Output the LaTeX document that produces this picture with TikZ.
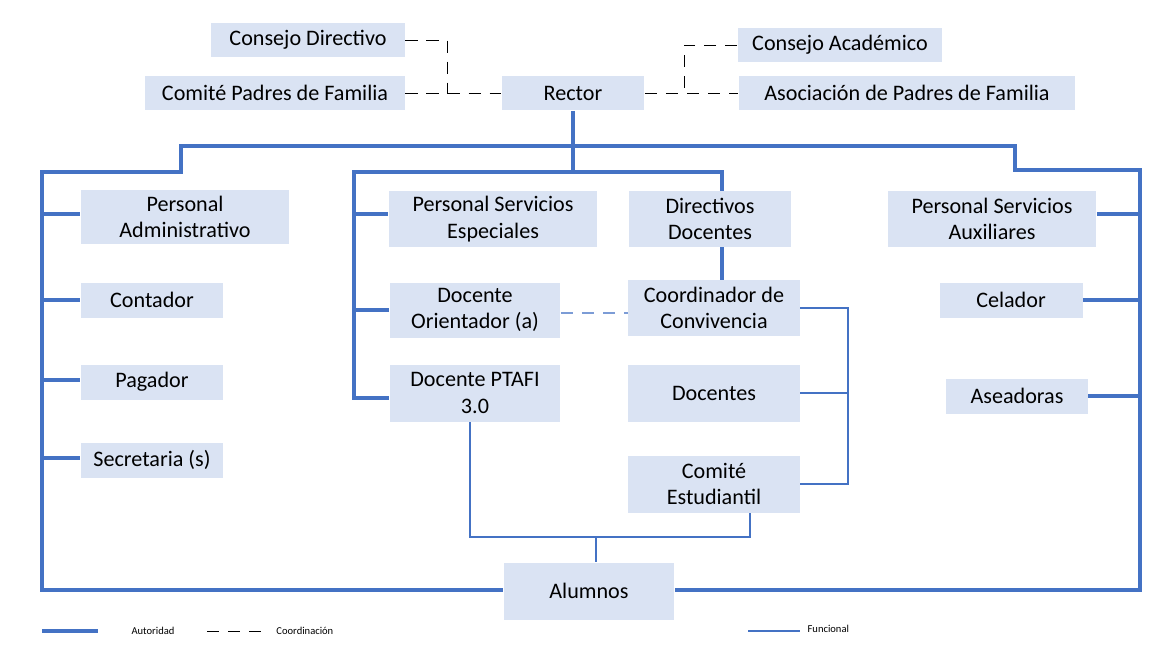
\documentclass[tikz,border=0pt]{standalone}
\usepackage{fontspec}
\setmainfont{Carlito}
\usetikzlibrary{calc}
\definecolor{boxblue}{RGB}{218,227,243}
\definecolor{lineblue}{RGB}{68,114,196}
\begin{document}
\begin{tikzpicture}[x = 0.02cm, y = -0.02cm, % pixel grid
                box/.style = {fill = boxblue, align = center, inner sep = 0pt,
                    font = \fontsize{12.6}{15}\selectfont},
                auth/.style = {draw = lineblue, line width = 2.2pt},
                func/.style = {draw = lineblue, line width = 0.7pt},
                coord/.style = {draw = black, dash pattern = on 7pt off 5pt, line width = 0.5pt}
            ]
            \useasboundingbox (0,0) rectangle (1176,646);

            % top row
            \node[box, minimum width = 3.88cm, minimum height = 0.7cm] (cdir) at (308,40) {Consejo Directivo};
            \node[box, minimum width = 5.2cm, minimum height = 0.7cm] (cpad) at (275,93) {Comité Padres de Familia};
            \node[box, minimum width = 2.86cm, minimum height = 0.7cm] (rect) at (573,93) {Rector};
            \node[box, minimum width = 4.1cm, minimum height = 0.7cm] (cacad) at (840,45) {Consejo Académico};
            \node[box, minimum width = 6.74cm, minimum height = 0.7cm] (asoc) at (907,93) {Asociación de Padres de Familia};

            % left column
            \node[box, minimum width = 4.18cm, minimum height = 1.1cm] (padm) at (185,217) {Personal\\Administrativo};
            \node[box, minimum width = 2.86cm, minimum height = 0.7cm] (cont) at (152,300) {Contador};
            \node[box, minimum width = 2.86cm, minimum height = 0.7cm] (paga) at (152,382) {Pagador};
            \node[box, minimum width = 2.86cm, minimum height = 0.7cm] (secr) at (152,460) {Secretaria (s)};

            % middle
            \node[box, minimum width = 4.18cm, minimum height = 1.12cm] (pse) at (493,219) {Personal Servicios\\Especiales};
            \node[box, minimum width = 3.26cm, minimum height = 1.12cm] (ddoc) at (710,219) {Directivos\\Docentes};
            \node[box, minimum width = 3.42cm, minimum height = 1.1cm] (dori) at (475,310) {Docente\\Orientador (a)};
            \node[box, minimum width = 3.44cm, minimum height = 1.12cm] (coor) at (714,308) {Coordinador de\\Convivencia};
            \node[box, minimum width = 3.42cm, minimum height = 1.14cm] (ptafi) at (475,393) {Docente PTAFI\\3.0};
            \node[box, minimum width = 3.44cm, minimum height = 1.14cm] (doce) at (714,393) {Docentes};
            \node[box, minimum width = 3.44cm, minimum height = 1.14cm] (cest) at (714,484) {Comité\\Estudiantil};
            \node[box, minimum width = 3.42cm, minimum height = 1.14cm] (alum) at (589,591) {Alumnos};

            % right column
            \node[box, minimum width = 4.18cm, minimum height = 1.12cm] (psa) at (992,219) {Personal Servicios\\Auxiliares};
            \node[box, minimum width = 2.86cm, minimum height = 0.7cm] (cela) at (1011,300) {Celador};
            \node[box, minimum width = 2.84cm, minimum height = 0.7cm] (asea) at (1017,396) {Aseadoras};

            % junctions
            \coordinate (lt) at (42,172); \coordinate (lb) at (42,590);
            \coordinate (rt) at (1140,170); \coordinate (rb) at (1140,590);
            \coordinate (mt) at (354,172); \coordinate (mb) at (354,398);
            \coordinate (fx) at (848,308); \coordinate (sj) at (596,537);

            % coordination
            \path[coord] (cdir.east) -| (447,93);
            \path[coord] (cpad.east) -- (rect.west);
            \path[coord] (rect.east) -- (asoc.west);
            \path[coord] (cacad.west) -| (684,93);
            \draw[lineblue!70, dash pattern = on 7pt off 5pt, line width = 0.6pt] (dori.east) ++(0,3) -- ($(coor.west)+(0,5)$);

            % authority
            \path[auth] (rect.south) -- ++(0,35) coordinate (rj) -| (181,172) -| (lt) -- (lb) -- (alum.west |- lb);
            \path[auth] (rj) -| (1015,170) -- (rt) -- (rb) -- (alum.east |- rb);
            \path[auth] (rj) -- (rect.south |- mt) -- (mt) -- (mb) -- (ptafi.west |- mb);
            \path[auth] (rect.south |- mt) -| (722,191) (722,247) -- (722,280);
            \foreach \n/\y in {padm/214, cont/300, paga/380, secr/458}
                \path[auth] (42,\y) -- (\n.west |- 0,\y);
            \foreach \n/\y in {pse/214, dori/310}
                \path[auth] (354,\y) -- (\n.west |- 0,\y);
            \foreach \n/\y in {psa/214, cela/300, asea/396}
                \path[auth] (\n.east |- 0,\y) -- (1140,\y);
            \path[draw = lineblue, line width = 1.6pt] (470,422) |- (750,537) -- (750,513);
            \path[draw = lineblue, line width = 1.6pt] (sj) -- (alum.north -| sj);

            % functional
            \path[func] (coor.east) -- (fx) |- (cest.east);
            \path[func] (doce.east) -- (fx |- doce.east);

            % legend
            \coordinate (la) at (42,631); \coordinate (lc) at (207,631); \coordinate (lf) at (748,631);
            \path[auth] (la) -- ++(56,0) node[right = 18pt, font = \fontsize{6}{7}\selectfont, inner sep = 0pt] {Autoridad};
            \path[coord] (lc) -- ++(55,0) node[right = 8pt, font = \fontsize{6}{7}\selectfont, inner sep = 0pt] {Coordinación};
            \path[func] (lf) -- ++(52,0) node[right = 4pt, font = \fontsize{6}{7}\selectfont, inner sep = 0pt, yshift = 1pt] {Funcional};
\end{tikzpicture}
\end{document}
